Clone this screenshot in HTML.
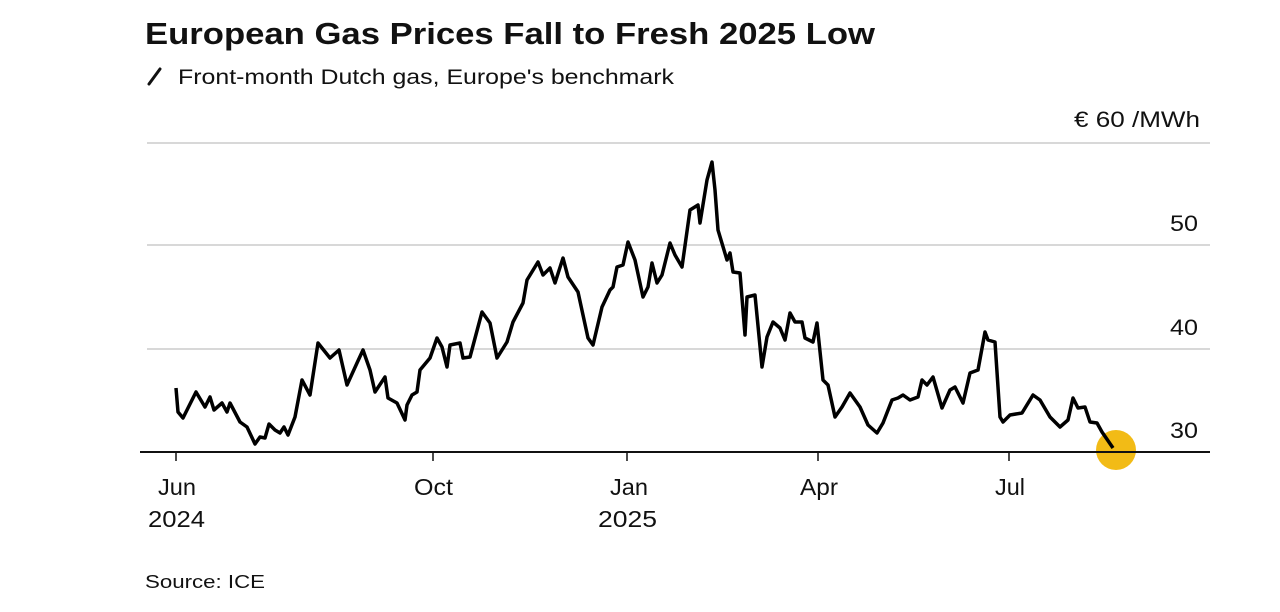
<!DOCTYPE html>
<html><head><meta charset="utf-8"><style>
html,body{margin:0;padding:0;background:#fff;}
svg{display:block;}
text{font-family:"Liberation Sans",Arial,sans-serif;fill:#111;}
</style></head><body>
<svg width="1280" height="612" viewBox="0 0 1280 612" xmlns="http://www.w3.org/2000/svg">
<rect width="1280" height="612" fill="#fff"/>
<text x="145" y="44" font-size="31" font-weight="bold" textLength="730" lengthAdjust="spacingAndGlyphs">European Gas Prices Fall to Fresh 2025 Low</text>
<line x1="149" y1="84" x2="160" y2="69" stroke="#111" stroke-width="3" stroke-linecap="round"/>
<text x="178" y="84" font-size="21" fill="#222" textLength="496" lengthAdjust="spacingAndGlyphs">Front-month Dutch gas, Europe's benchmark</text>
<text x="1200" y="127" font-size="22" text-anchor="end" textLength="126" lengthAdjust="spacingAndGlyphs">€ 60 /MWh</text>
<g stroke="#d8d8d8" stroke-width="2">
<line x1="147" y1="143" x2="1210" y2="143"/>
<line x1="147" y1="245" x2="1210" y2="245"/>
<line x1="147" y1="349" x2="1210" y2="349"/>
</g>
<g font-size="22" text-anchor="end">
<text x="1198" y="231" textLength="28" lengthAdjust="spacingAndGlyphs">50</text>
<text x="1198" y="335" textLength="28" lengthAdjust="spacingAndGlyphs">40</text>
<text x="1198" y="438" textLength="28" lengthAdjust="spacingAndGlyphs">30</text>
</g>
<circle cx="1116" cy="450" r="20" fill="#f2bb16"/>
<line x1="140" y1="452" x2="1210" y2="452" stroke="#111" stroke-width="2"/>
<g stroke="#111" stroke-width="1.5">
<line x1="176" y1="452" x2="176" y2="461"/>
<line x1="433" y1="452" x2="433" y2="461"/>
<line x1="627" y1="452" x2="627" y2="461"/>
<line x1="818" y1="452" x2="818" y2="461"/>
<line x1="1009" y1="452" x2="1009" y2="461"/>
</g>
<polyline fill="none" stroke="#000" stroke-width="3.5" stroke-linejoin="round" points="176,388 178,412 183,418 188,408 196,392 205,407 210,397 214,410 222,403 227,412 230,403 240,422 247,427 255,444 260,437 265,438 269,424 275,430 280,433 284,427 288,435 295,417 302,380 310,395 318,343 330,358 339,350 347,385 357,363 363,350 370,370 375,392 385,377 388,398 397,403 405,420 407,405 412,395 417,392 420,370 430,358 437,338 442,347 447,367 450,345 460,343 463,358 470,357 482,312 490,323 497,358 507,342 513,322 523,303 527,280 538,262 543,275 550,268 555,283 563,258 568,277 578,292 588,338 593,345 602,307 610,290 613,287 617,267 623,265 628,242 635,260 643,297 648,287 652,263 657,283 662,275 670,243 675,255 682,267 690,210 698,205 700,223 707,180 712,162 715,190 718,230 727,260 730,253 733,272 740,273 745,335 747,297 755,295 762,367 767,337 773,322 780,328 785,340 790,313 795,322 802,322 805,338 813,342 817,323 823,380 828,385 835,417 842,407 850,393 860,407 868,425 877,433 883,423 892,400 898,398 903,395 910,400 918,397 922,380 927,385 933,377 942,408 950,390 955,387 963,403 970,373 978,370 985,332 988,340 995,342 1000,417 1003,422 1010,415 1022,413 1033,395 1040,400 1050,417 1060,427 1068,420 1073,398 1078,408 1085,407 1090,422 1097,423 1102,432 1113,448"/>
<g font-size="23">
<text x="158" y="495" textLength="38" lengthAdjust="spacingAndGlyphs">Jun</text>
<text x="148" y="527" textLength="57" lengthAdjust="spacingAndGlyphs">2024</text>
<text x="414" y="495" textLength="39" lengthAdjust="spacingAndGlyphs">Oct</text>
<text x="610" y="495" textLength="38" lengthAdjust="spacingAndGlyphs">Jan</text>
<text x="598" y="527" textLength="59" lengthAdjust="spacingAndGlyphs">2025</text>
<text x="800" y="495" textLength="38" lengthAdjust="spacingAndGlyphs">Apr</text>
<text x="995" y="495" textLength="30" lengthAdjust="spacingAndGlyphs">Jul</text>
</g>
<text x="145" y="588" font-size="18" fill="#333" textLength="120" lengthAdjust="spacingAndGlyphs">Source: ICE</text>
</svg>
</body></html>
